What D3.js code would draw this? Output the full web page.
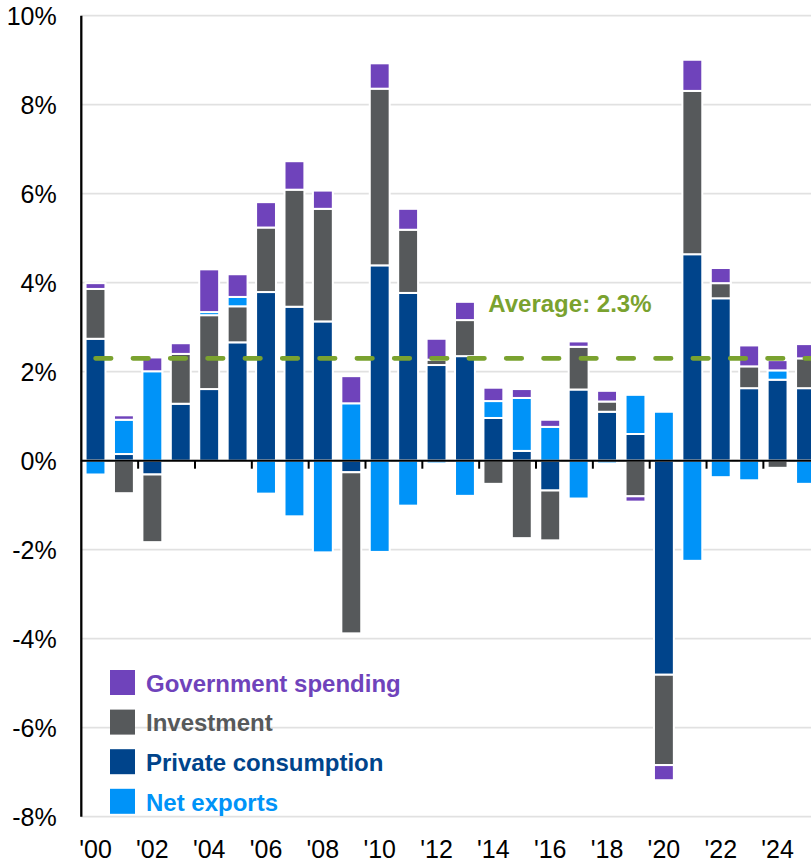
<!DOCTYPE html>
<html>
<head>
<meta charset="utf-8">
<script src="https://cdn.jsdelivr.net/npm/d3@7"></script>
<style>
  html, body { margin: 0; padding: 0; background: #fff; }
  svg { display: block; font-family: "Liberation Sans", Arial, sans-serif; }
</style>
</head>
<body>
<svg id="chart" width="811" height="862"></svg>
<script>
// Contributions to real GDP growth, percentage points, by component
const years = ["'00","'01","'02","'03","'04","'05","'06","'07","'08","'09","'10","'11","'12",
               "'13","'14","'15","'16","'17","'18","'19","'20","'21","'22","'23","'24","'25"];
const privateConsumption = [2.74, 0.15, -0.31, 1.28, 1.61, 2.66, 3.79, 3.46, 3.13, -0.26, 4.39, 3.77, 2.15,
                            2.35, 0.96, 0.22, -0.67, 1.60, 1.10, 0.60, -4.81, 4.64, 3.65, 1.63, 1.82, 1.63];
const investment = [1.12, -0.73, -1.52, 1.12, 1.66, 0.81, 1.45, 2.63, 2.53, -3.62, 3.97, 1.42, 0.12,
                    0.81, -0.52, -1.74, -1.12, 0.96, 0.23, -0.80, -2.03, 3.67, 0.34, 0.49, -0.16, 0.67];
const netExports = [-0.31, 0.77, 2.01, 0.00, 0.07, 0.21, -0.74, -1.25, -2.06, 1.29, -2.05, -1.01, -0.06,
                    -0.79, 0.38, 1.19, 0.76, -0.85, -0.06, 0.88, 1.10, -2.25, -0.37, -0.44, 0.21, -0.52];
const governmentSpending = [0.13, 0.10, 0.31, 0.24, 0.96, 0.51, 0.57, 0.64, 0.41, 0.61, 0.57, 0.47, 0.47,
                            0.41, 0.30, 0.20, 0.16, 0.12, 0.24, -0.12, -0.34, 0.70, 0.34, 0.47, 0.23, 0.32];
const averageGrowth = 2.3;
const yTicks = [-8, -6, -4, -2, 0, 2, 4, 6, 8, 10];
const xTickLabels = years.filter((d, i) => i % 2 === 0);

// Stack order (bottom to top) and legend order (top to bottom)
const seriesKeys = ["pc", "inv", "nx", "gov"];
const seriesInfo = {
  gov: { name: "Government spending", color: "#6f43bb" },
  inv: { name: "Investment", color: "#56595b" },
  pc:  { name: "Private consumption", color: "#00448b" },
  nx:  { name: "Net exports", color: "#0093f8" }
};
const legendOrder = ["gov", "inv", "pc", "nx"];
const avgColor = "#7aa22f";

const rows = years.map((y, i) => ({
  year: y,
  pc: privateConsumption[i],
  inv: investment[i],
  nx: netExports[i],
  gov: governmentSpending[i]
}));

const svg = d3.select("#chart");
const axisX = 81.3;
const yScale = d3.scaleLinear().domain([-8, 10]).range([816.7, 15.7]);
const xScale = d3.scaleBand().domain(years).range([axisX, axisX + 26 * 28.42])
  .paddingInner(0.3).paddingOuter(0.15);
const gap = (xScale.step() - xScale.bandwidth()) / 2;

// Horizontal gridlines
svg.append("g").selectAll("line").data(yTicks).join("line")
  .attr("x1", axisX).attr("x2", 811)
  .attr("y1", d => yScale(d)).attr("y2", d => yScale(d))
  .attr("stroke", "#e1e1e1").attr("stroke-width", 1.8);

// Stacked bars (diverging around zero)
const stacked = d3.stack().keys(seriesKeys).offset(d3.stackOffsetDiverging)(rows);
svg.append("g").selectAll("g").data(stacked).join("g")
  .attr("fill", s => seriesInfo[s.key].color)
  .selectAll("rect").data(s => s.filter(d => d[1] !== d[0])).join("rect")
  .attr("x", d => xScale(d.data.year))
  .attr("width", xScale.bandwidth())
  .attr("y", d => yScale(Math.max(d[0], d[1])))
  .attr("height", d => Math.abs(yScale(d[0]) - yScale(d[1])))
  .attr("stroke", "#fff").attr("stroke-width", 2);

// Average growth reference line
svg.append("line")
  .attr("x1", 95.55).attr("x2", 811)
  .attr("y1", yScale(averageGrowth)).attr("y2", yScale(averageGrowth))
  .attr("stroke", avgColor).attr("stroke-width", 4.6)
  .attr("stroke-linecap", "round")
  .attr("stroke-dasharray", "15.6,21.73");
svg.append("text")
  .attr("x", 488.3).attr("y", 312.3)
  .attr("font-size", 24).attr("font-weight", "bold")
  .attr("fill", avgColor)
  .text("Average: " + averageGrowth.toFixed(1) + "%");

// Zero line with tick marks between every second year
svg.append("line")
  .attr("x1", axisX).attr("x2", 811)
  .attr("y1", yScale(0)).attr("y2", yScale(0))
  .attr("stroke", "#000").attr("stroke-width", 2);
svg.append("g").selectAll("line").data(xTickLabels.slice(1)).join("line")
  .attr("x1", d => xScale(d) - gap).attr("x2", d => xScale(d) - gap)
  .attr("y1", yScale(0)).attr("y2", yScale(0) + 8)
  .attr("stroke", "#000").attr("stroke-width", 2);

// Y axis
const yAxis = svg.append("g").attr("transform", `translate(${axisX},0)`)
  .call(d3.axisLeft(yScale).tickValues(yTicks).tickSize(0).tickPadding(24.6)
    .tickFormat(d => d + "%"));
yAxis.select(".domain").remove();
yAxis.selectAll("text").attr("font-size", 25).attr("font-family", "Liberation Sans, Arial, sans-serif")
  .attr("fill", "#000").attr("dy", "0.345em");
svg.append("line")
  .attr("x1", axisX).attr("x2", axisX)
  .attr("y1", yScale(10)).attr("y2", yScale(-8))
  .attr("stroke", "#000").attr("stroke-width", 2.3);

// X axis labels
const xAxis = svg.append("g").attr("transform", "translate(0,858)")
  .call(d3.axisBottom(xScale).tickValues(xTickLabels).tickSize(0).tickPadding(0));
xAxis.select(".domain").remove();
xAxis.selectAll("text").attr("font-size", 25).attr("font-family", "Liberation Sans, Arial, sans-serif")
  .attr("fill", "#000").attr("y", 0).attr("dy", 0);

// Legend
const legend = svg.append("g").selectAll("g").data(legendOrder).join("g")
  .attr("transform", (d, i) => `translate(110,${670 + i * 39.6})`);
legend.append("rect").attr("width", 25).attr("height", 25)
  .attr("fill", d => seriesInfo[d].color);
legend.append("text").attr("x", 36).attr("y", 21.7)
  .attr("font-size", 24).attr("font-weight", "bold")
  .attr("fill", d => seriesInfo[d].color)
  .text(d => seriesInfo[d].name);
</script>
</body>
</html>
